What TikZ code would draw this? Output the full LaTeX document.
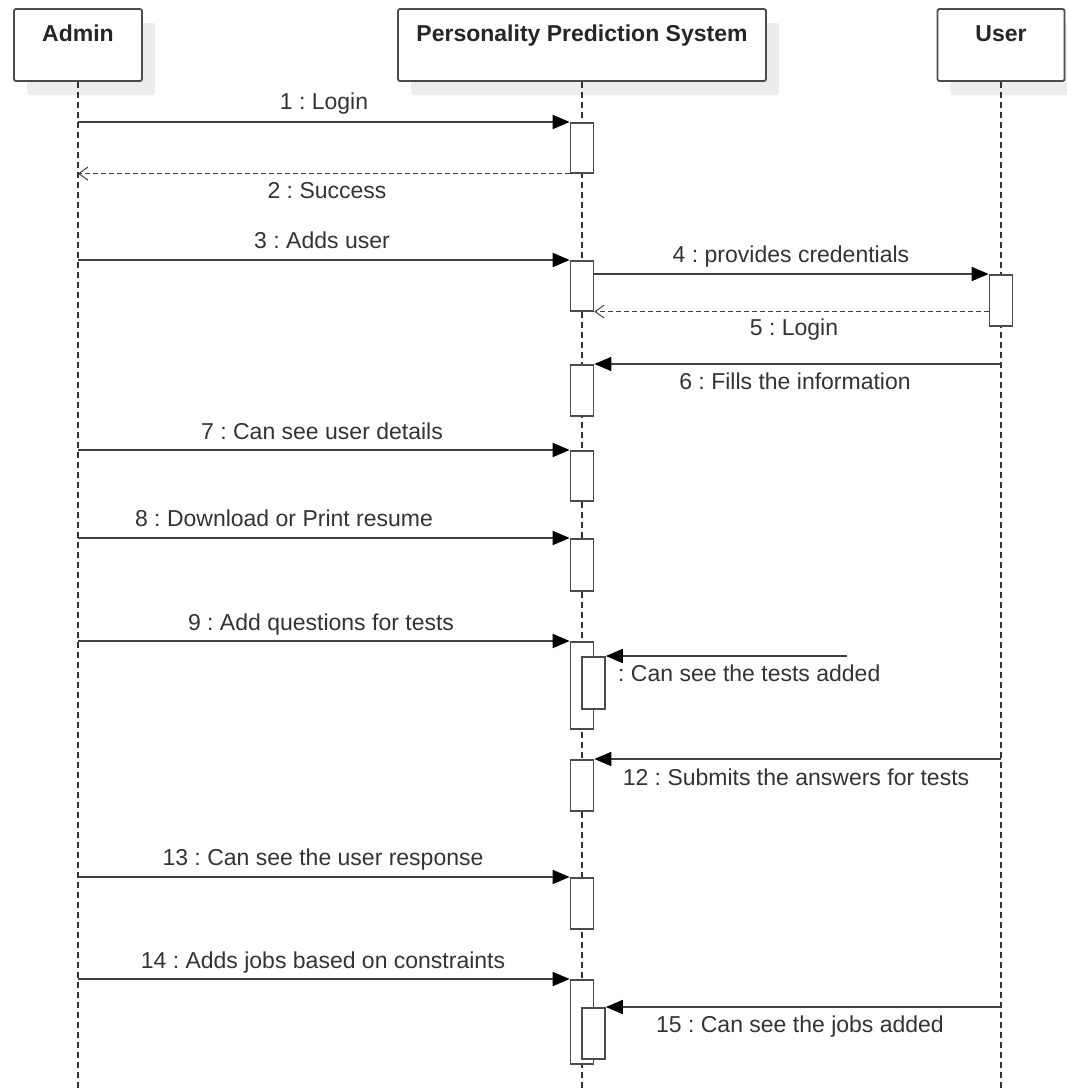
\documentclass[tikz,border=0pt]{standalone}
\usepackage{fontspec}
\setmainfont{Liberation Sans}
\usepackage{tikz}
\usetikzlibrary{positioning, calc, arrows.meta, shadows}
\frenchspacing
\tikzstyle{Msg} = [
    line width=1.6pt, draw=black!75,
    -{Triangle[length=17pt, width=14pt, fill=black, color=black]}
]
\tikzstyle{Ret} = [
    line width=1.4pt, draw=black!75,
    dash pattern=on 5pt off 3pt,
    -{Straight Barb[length=9pt, width=13pt, line width=1pt]}
]

\begin{document}
\begin{tikzpicture}[
x=1pt, y=-1pt,
head/.style={
    draw=black!70, line width=1.8pt, rounded corners=2pt, fill=white,
    minimum width=#1, inner ysep=0pt, text height=32pt, text depth=40pt,
    font=\fontsize{23}{27}\selectfont\bfseries, text=black!85,
    general shadow={fill=black!7, shadow xshift=13pt, shadow yshift=-14pt}
    },
life/.style={line width=1.6pt, draw=black!80, dash pattern=on 6pt off 4pt},
act/.style={
    draw=black!70, line width=1.6pt, fill=white, inner sep=0pt,
    minimum width=23pt, minimum height=#1, anchor=north
    },
lbl/.style={
    font=\fontsize{23}{27}\selectfont, text=black!80, inner sep=0pt,
    text height=18pt, text depth=2pt
    }
]
\useasboundingbox (0,0) rectangle (1067,1088);
\coordinate (bottom) at (0,1088);

% lifelines
\node[head=128pt] (admin) at (78,45) {Admin};
\node[head=368pt] (pps) at (582,45) {Personality Prediction System};
\node[head=127pt] (user) at (1001,45) {User};

\draw[life] (admin.south) -- (admin.south |- bottom);
\draw[life] (pps.south) -- (pps.south |- bottom);
\draw[life] (user.south) -- (user.south |- bottom);

% activations
\node[act=50pt] (a1) at (582,122) {};
\node[act=50pt] (a3) at (582,260) {};
\node[act=51pt] (u4) at (1001,274) {};
\node[act=51pt] (a6) at (582,364) {};
\node[act=50pt] (a7) at (582,450) {};
\node[act=52pt] (a8) at (582,538) {};
\node[act=87pt] (a9) at (582,641) {};
\node[act=52pt] (a10) at (593.5,656) {};
\node[act=51pt] (a12) at (582,759) {};
\node[act=51pt] (a13) at (582,877) {};
\node[act=84pt] (a14) at (582,979) {};
\node[act=51pt] (a15) at (593.5,1007) {};
\coordinate (s10) at (847,656);

% messages
\draw[Msg] (admin.south |- a1.north) -- (a1.north west);
\node[lbl] (l1) at (324,101) {1 : Login};

\draw[Ret] (a1.south west) -- (admin.south |- a1.south);
\node[lbl] (l2) at (327,190) {2 : Success};

\draw[Msg] (admin.south |- a3.north) -- (a3.north west);
\node[lbl] (l3) at (322,240) {3 : Adds user};

\draw[Msg] (a3.east |- u4.north) -- (u4.north west);
\node[lbl] (l4) at (791,254) {4 : provides credentials};

\draw[Ret] (u4.west |- a3.south) -- (a3.south east);
\node[lbl] (l5) at (794,327) {5 : Login};

\draw[Msg] (user.south |- a6.north) -- (a6.north east);
\node[lbl] (l6) at (795,381) {6 : Fills the information};

\draw[Msg] (admin.south |- a7.north) -- (a7.north west);
\node[lbl] (l7) at (322,431) {7 : Can see user details};

\draw[Msg] (admin.south |- a8.north) -- (a8.north west);
\node[lbl] (l8) at (284,518) {8 : Download or Print resume};

\draw[Msg] (admin.south |- a9.north) -- (a9.north west);
\node[lbl] (l9) at (321,622) {9 : Add questions for tests};

\draw[Msg] (s10) -- (a10.north east);
\node[lbl, anchor=west] (l10) at (618,673) {: Can see the tests added};

\draw[Msg] (user.south |- a12.north) -- (a12.north east);
\node[lbl] (l12) at (796,777) {12 : Submits the answers for tests};

\draw[Msg] (admin.south |- a13.north) -- (a13.north west);
\node[lbl] (l13) at (323,857) {13 : Can see the user response};

\draw[Msg] (admin.south |- a14.north) -- (a14.north west);
\node[lbl] (l14) at (323,960) {14 : Adds jobs based on constraints};

\draw[Msg] (user.south |- a15.north) -- (a15.north east);
\node[lbl] (l15) at (800,1024) {15 : Can see the jobs added};

\end{tikzpicture}
\end{document}
